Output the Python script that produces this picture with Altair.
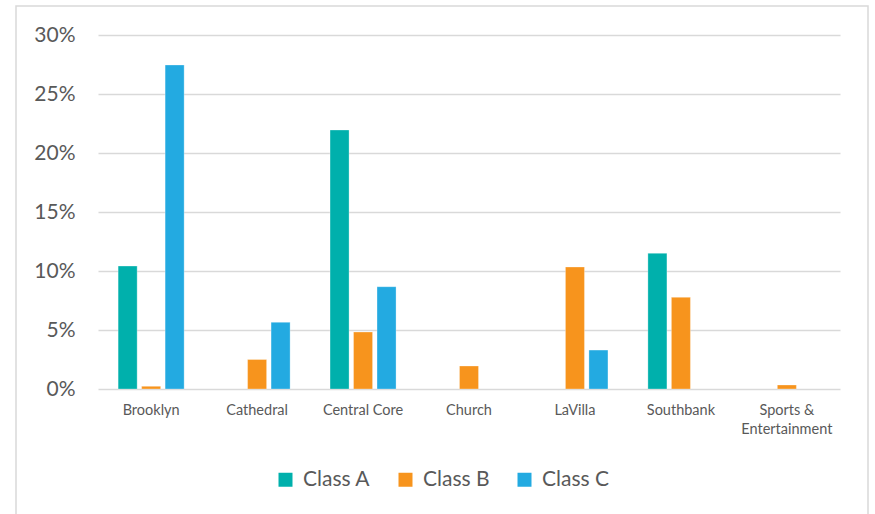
import altair as alt
import pandas as pd

# Share of each downtown district, by office class
districts = ["Brooklyn", "Cathedral", "Central Core", "Church",
             "LaVilla", "Southbank", "Sports & Entertainment"]
classes = ["Class A", "Class B", "Class C"]
class_a = [0.1042, None, 0.2195, None, None, 0.115, None]
class_b = [0.0023, 0.025, 0.0483, 0.0195, 0.1034, 0.0777, 0.0034]
class_c = [0.2746, 0.0565, 0.0867, None, 0.033, None, None]
colors = ["#00B0AC", "#F7941D", "#23AAE1"]

rows = []
for name, series in zip(classes, [class_a, class_b, class_c]):
    for d, v in zip(districts, series):
        if v is not None:
            rows.append({"district": d, "cls": name, "share": v})
df = pd.DataFrame(rows)

FONT = "Lato"
GREY = "#595959"

bars = alt.Chart(df).mark_bar(stroke="white", strokeWidth=0.6, strokeOpacity=0.5).encode(
    x=alt.X("district:N", sort=districts, title=None,
            scale=alt.Scale(domain=districts, paddingInner=0.377, paddingOuter=0.19),
            axis=alt.Axis(labelAngle=0, labelFontSize=14.5, labelColor=GREY, labelFont=FONT,
                          labelPadding=14, ticks=False, domain=False, grid=False,
                          labelLineHeight=19,
                          labelExpr="datum.label == 'Sports & Entertainment' ? ['Sports &', 'Entertainment'] : datum.label")),
    xOffset=alt.XOffset("cls:N", sort=classes,
                        scale=alt.Scale(domain=classes, paddingInner=0.19, paddingOuter=0)),
    y=alt.Y("share:Q", title=None,
            scale=alt.Scale(domain=[0, 0.30], nice=False),
            axis=alt.Axis(format=".0%", values=[0, 0.05, 0.10, 0.15, 0.20, 0.25, 0.30],
                          labelFontSize=21, labelColor=GREY, labelFont=FONT,
                          labelPadding=23, ticks=False, domain=False,
                          gridColor="#D9D9D9", gridWidth=1.5)),
    color=alt.Color("cls:N", sort=classes,
                    scale=alt.Scale(domain=classes, range=colors),
                    legend=alt.Legend(title=None, orient="none", legendX=177, legendY=434,
                                      direction="horizontal", columns=3,
                                      symbolType="square", symbolSize=196,
                                      symbolStrokeWidth=0, labelFontSize=21,
                                      labelColor=GREY, labelFont=FONT, labelOffset=7,
                                      columnPadding=24)),
)

# Thin frame around the whole chart
frame = alt.Chart(pd.DataFrame({"k": [0]})).mark_rect(
    fill=None, stroke="#D9D9D9", strokeWidth=1.5, clip=False
).encode(x=alt.value(-82), x2=alt.value(770), y=alt.value(-29), y2=alt.value(500))

chart = alt.layer(frame, bars).properties(
    width=742, height=354,
    background="white",
    autosize=alt.AutoSizeParams(type="none"),
    padding={"left": 98, "top": 35, "right": 35, "bottom": 125},
).configure_view(strokeWidth=0, stroke=None)

chart.save("out.html", embed_options={"renderer": "svg", "actions": False})
